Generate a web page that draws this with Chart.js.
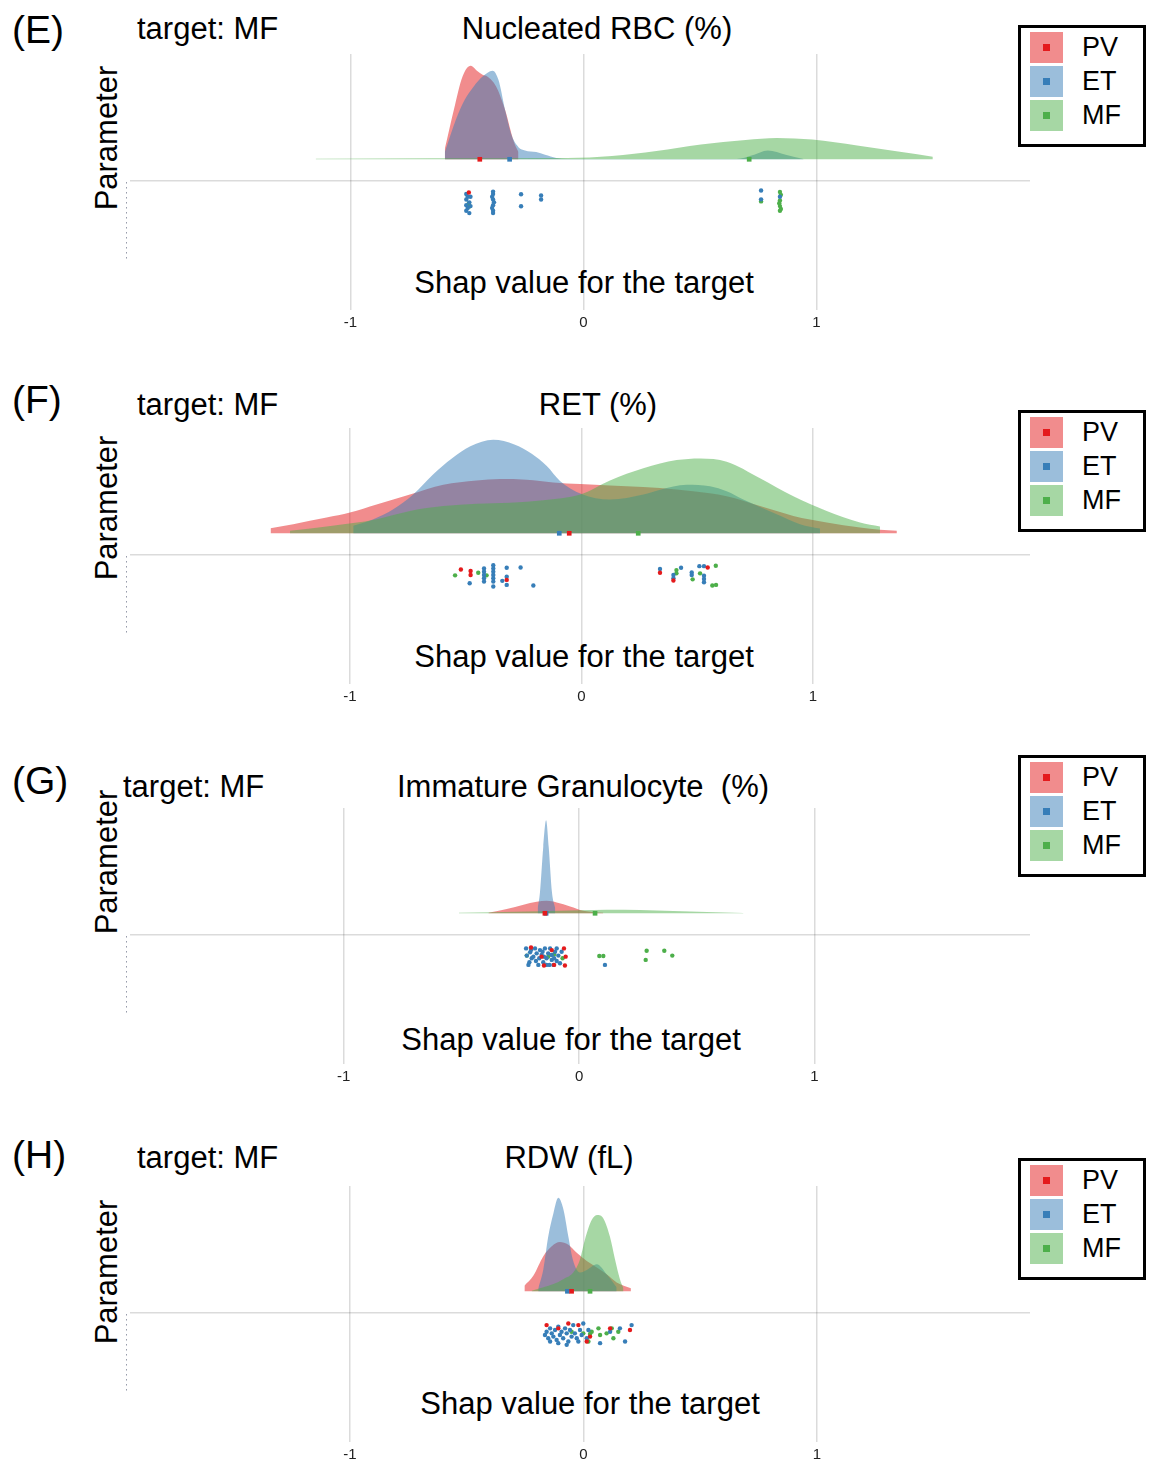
<!DOCTYPE html>
<html><head><meta charset="utf-8">
<script src="https://cdn.jsdelivr.net/npm/chart.js@4"></script>
<style>
html,body{margin:0;padding:0;background:#fff;}
body{width:1153px;height:1462px;position:relative;overflow:hidden;font-family:'Liberation Sans',Arial,sans-serif;color:#000;}
.t{position:absolute;white-space:pre;line-height:1;}
.lab{font-size:39px;transform:translateY(-50%);}
.tt{font-size:31px;}
.vc{transform:translateY(-50%);}
.ctr{transform:translate(-50%,-50%);}
.rot{transform:translate(-50%,-50%) rotate(-90deg);}
canvas{position:absolute;left:0;}
.leg{position:absolute;left:1018px;width:122px;height:116px;border:3px solid #000;background:#fff;}
.sw{position:absolute;left:9px;width:33px;height:31px;}
.sw i{position:absolute;left:13px;top:12px;width:7px;height:7px;}
.lt{position:absolute;left:61px;font-size:27px;line-height:1;transform:translateY(-50%);}
</style>
</head><body>
<script>
// ---------- category / series labels ----------
const GROUPS = ['PV', 'ET', 'MF'];
const PANEL_IDS = ['E', 'F', 'G', 'H'];
const PANEL_TITLES = ['Nucleated RBC (%)', 'RET (%)', 'Immature Granulocyte  (%)', 'RDW (fL)'];
const TARGET_LABEL = 'target: MF';
const Y_LABEL = 'Parameter';
const X_LABEL = 'Shap value for the target';
const X_TICKS = [-1, 0, 1];
const PARAM_ROW = [-0.225];

// ---------- Panel E: Nucleated RBC (%) ----------
const E_PV_DENS = [[-0.595,0.112],[-0.556,0.533],[-0.519,0.884],[-0.484,1.0],[-0.453,0.937],[-0.433,0.902],[-0.413,0.884],[-0.375,0.779],[-0.337,0.533],[-0.298,0.182],[-0.279,0.077]];
const E_ET_DENS = [[-0.595,0.077],[-0.547,0.428],[-0.509,0.639],[-0.471,0.779],[-0.433,0.884],[-0.390,0.947],[-0.365,0.849],[-0.337,0.533],[-0.308,0.253],[-0.279,0.13],[-0.251,0.095],[-0.203,0.077],[-0.165,0.049],[-0.117,0.014],[-0.069,0.002],[0.657,0.002],[0.724,0.042],[0.791,0.095],[0.868,0.049],[0.944,0.002]];
const E_MF_DENS = [[-1.149,0.005],[-0.643,0.011],[-0.069,0.014],[0.122,0.035],[0.313,0.088],[0.504,0.158],[0.696,0.207],[0.83,0.228],[0.982,0.211],[1.174,0.147],[1.365,0.077],[1.499,0.028]];
const E_MEDIANS = [-0.445, -0.317, 0.711];
const E_PV_PTS = [[-0.492,-0.355]];
const E_ET_PTS = [[-0.503,-0.37],[-0.497,-0.40],[-0.503,-0.43],[-0.49,-0.46],[-0.503,-0.49],[-0.497,-0.52],[-0.503,-0.55],[-0.49,-0.575],[-0.485,-0.40],[-0.485,-0.50],[-0.388,-0.345],[-0.388,-0.37],[-0.392,-0.40],[-0.388,-0.43],[-0.384,-0.46],[-0.388,-0.49],[-0.392,-0.52],[-0.388,-0.55],[-0.388,-0.575],[-0.268,-0.373],[-0.268,-0.502],[-0.182,-0.386],[-0.182,-0.43],[0.762,-0.333],[0.762,-0.428],[0.843,-0.40]];
const E_MF_PTS = [[-0.492,-0.47],[-0.49,-0.505],[0.762,-0.45],[0.843,-0.35],[0.847,-0.38],[0.843,-0.44],[0.84,-0.47],[0.843,-0.50],[0.847,-0.53],[0.843,-0.55]];

// ---------- Panel F: RET (%) ----------
const F_PV_DENS = [[-1.343,0.053],[-1.245,0.098],[-1.101,0.168],[-1.0,0.221],[-0.885,0.309],[-0.741,0.414],[-0.597,0.519],[-0.453,0.565],[-0.352,0.579],[-0.237,0.572],[-0.122,0.544],[-0.006,0.526],[0.123,0.512],[0.267,0.495],[0.339,0.484],[0.483,0.449],[0.627,0.396],[0.771,0.291],[0.915,0.186],[1.059,0.116],[1.203,0.063],[1.289,0.039],[1.362,0.028]];
const F_ET_DENS = [[-0.986,0.08],[-0.899,0.151],[-0.813,0.256],[-0.727,0.414],[-0.640,0.632],[-0.56,0.80],[-0.48,0.93],[-0.381,1.0],[-0.29,0.95],[-0.215,0.85],[-0.150,0.72],[-0.093,0.56],[0.0,0.42],[0.123,0.361],[0.267,0.414],[0.339,0.466],[0.454,0.519],[0.555,0.502],[0.627,0.449],[0.699,0.361],[0.843,0.204],[0.944,0.098],[1.03,0.05]];
const F_MF_DENS = [[-1.259,0.028],[-1.101,0.074],[-0.986,0.109],[-0.885,0.151],[-0.741,0.239],[-0.597,0.291],[-0.453,0.316],[-0.309,0.326],[-0.165,0.354],[-0.006,0.414],[0.123,0.565],[0.267,0.695],[0.411,0.782],[0.512,0.80],[0.627,0.765],[0.771,0.589],[0.915,0.396],[1.059,0.239],[1.203,0.116],[1.289,0.074]];
const F_MEDIANS = [-0.053, -0.096, 0.245];
const F_PV_PTS = [[-0.521,-0.386],[-0.479,-0.403],[-0.479,-0.445],[-0.323,-0.498],[0.339,-0.421],[0.397,-0.505],[0.545,-0.365]];
const F_ET_PTS = [[-0.483,-0.534],[-0.421,-0.376],[-0.421,-0.411],[-0.421,-0.445],[-0.421,-0.481],[-0.421,-0.516],[-0.381,-0.34],[-0.381,-0.376],[-0.381,-0.411],[-0.381,-0.445],[-0.381,-0.481],[-0.381,-0.516],[-0.381,-0.568],[-0.342,-0.508],[-0.323,-0.368],[-0.323,-0.463],[-0.323,-0.551],[-0.263,-0.365],[-0.208,-0.558],[0.339,-0.382],[0.43,-0.368],[0.397,-0.445],[0.397,-0.481],[0.476,-0.418],[0.476,-0.445],[0.509,-0.351],[0.529,-0.351],[0.529,-0.453],[0.529,-0.487],[0.529,-0.523]];
const F_MF_PTS = [[-0.546,-0.449],[-0.446,-0.421],[-0.410,-0.449],[0.41,-0.393],[0.41,-0.428],[0.48,-0.492],[0.512,-0.428],[0.58,-0.347],[0.565,-0.558],[0.581,-0.551]];

// ---------- Panel G: Immature Granulocyte (%) ----------
const G_PV_DENS = [[-0.385,0.005],[-0.307,0.046],[-0.236,0.091],[-0.180,0.123],[-0.137,0.133],[-0.095,0.116],[-0.038,0.074],[0.018,0.028],[0.103,0.005]];
const G_ET_DENS = [[-0.176,0.05],[-0.166,0.221],[-0.152,0.712],[-0.140,0.993],[-0.129,0.712],[-0.115,0.221],[-0.101,0.05]];
const G_MF_DENS = [[-0.510,0.005],[-0.378,0.01],[-0.166,0.021],[0.004,0.032],[0.118,0.039],[0.259,0.035],[0.4,0.025],[0.542,0.014],[0.698,0.004]];
const G_MEDIANS = [-0.145, -0.140, 0.068];
const G_PV_PTS = [[-0.204,-0.365],[-0.064,-0.375],[-0.057,-0.463],[-0.06,-0.558],[-0.149,-0.558],[-0.106,-0.551],[-0.159,-0.463],[-0.116,-0.393]];
const G_ET_PTS = [[-0.225,-0.375],[-0.208,-0.417],[-0.201,-0.481],[-0.215,-0.551],[-0.187,-0.375],[-0.180,-0.428],[-0.183,-0.509],[-0.173,-0.551],[-0.166,-0.393],[-0.159,-0.445],[-0.145,-0.375],[-0.138,-0.481],[-0.131,-0.428],[-0.123,-0.375],[-0.116,-0.498],[-0.109,-0.551],[-0.102,-0.410],[-0.095,-0.375],[-0.088,-0.452],[-0.081,-0.533],[-0.194,-0.463],[-0.169,-0.481],[-0.152,-0.523],[-0.126,-0.551],[-0.095,-0.509],[-0.074,-0.410],[-0.211,-0.523],[-0.138,-0.551],[-0.116,-0.445],[-0.155,-0.410],[-0.222,-0.452],[-0.204,-0.393],[-0.149,-0.463],[-0.106,-0.481],[0.110,-0.551]];
const G_MF_PTS = [[-0.222,-0.452],[-0.07,-0.481],[-0.106,-0.438],[-0.131,-0.463],[0.086,-0.456],[0.103,-0.456],[0.287,-0.40],[0.362,-0.40],[0.283,-0.498],[0.396,-0.452]];

// ---------- Panel H: RDW (fL) ----------
const H_PV_DENS = [[-0.253,0.06],[-0.215,0.165],[-0.172,0.375],[-0.136,0.481],[-0.101,0.526],[-0.065,0.498],[-0.029,0.411],[0.014,0.323],[0.057,0.253],[0.099,0.182],[0.142,0.095],[0.203,0.032]];
const H_ET_DENS = [[-0.194,0.025],[-0.172,0.235],[-0.151,0.586],[-0.129,0.832],[-0.108,1.0],[-0.087,0.884],[-0.065,0.586],[-0.044,0.323],[-0.015,0.2],[0.014,0.228],[0.057,0.288],[0.099,0.182],[0.142,0.042]];
const H_MF_DENS = [[-0.222,0.007],[-0.172,0.042],[-0.129,0.077],[-0.087,0.13],[-0.044,0.2],[-0.015,0.34],[0.006,0.551],[0.035,0.761],[0.059,0.814],[0.085,0.779],[0.113,0.586],[0.135,0.34],[0.156,0.13],[0.171,0.032]];
const H_MEDIANS = [-0.051, -0.069, 0.028];
const H_PV_PTS = [[-0.158,-0.361],[-0.108,-0.396],[-0.065,-0.344],[-0.022,-0.361],[0.014,-0.537],[0.028,-0.484],[0.114,-0.396],[0.199,-0.414]];
const H_ET_PTS = [[-0.165,-0.467],[-0.158,-0.432],[-0.151,-0.502],[-0.143,-0.396],[-0.136,-0.449],[-0.129,-0.484],[-0.122,-0.414],[-0.115,-0.519],[-0.108,-0.379],[-0.101,-0.467],[-0.094,-0.432],[-0.087,-0.502],[-0.079,-0.396],[-0.072,-0.449],[-0.065,-0.537],[-0.058,-0.414],[-0.051,-0.484],[-0.044,-0.361],[-0.037,-0.449],[-0.029,-0.502],[-0.015,-0.414],[-0.008,-0.467],[-0.001,-0.344],[-0.108,-0.554],[-0.143,-0.537],[-0.072,-0.572],[-0.022,-0.537],[0.014,-0.502],[0.021,-0.414],[0.071,-0.554],[0.114,-0.432],[0.156,-0.396],[0.206,-0.361],[0.178,-0.537]];
const H_MF_PTS = [[-0.051,-0.432],[-0.001,-0.449],[0.035,-0.432],[0.021,-0.537],[0.064,-0.396],[0.071,-0.467],[0.099,-0.449],[0.128,-0.502],[0.149,-0.432],[0.121,-0.396],[0.028,-0.455]];

// ---------- assembly ----------
const DATA = {
  E: {dens:[E_PV_DENS,E_ET_DENS,E_MF_DENS], med:E_MEDIANS, pts:[E_PV_PTS,E_ET_PTS,E_MF_PTS]},
  F: {dens:[F_PV_DENS,F_ET_DENS,F_MF_DENS], med:F_MEDIANS, pts:[F_PV_PTS,F_ET_PTS,F_MF_PTS]},
  G: {dens:[G_PV_DENS,G_ET_DENS,G_MF_DENS], med:G_MEDIANS, pts:[G_PV_PTS,G_ET_PTS,G_MF_PTS]},
  H: {dens:[H_PV_DENS,H_ET_DENS,H_MF_DENS], med:H_MEDIANS, pts:[H_PV_PTS,H_ET_PTS,H_MF_PTS]}
};

// layout / style (not data)
const SOLID = ['rgb(228,26,28)','rgb(55,126,184)','rgb(77,175,74)'];
const FILL = ['rgba(228,26,28,0.5)','rgba(55,126,184,0.5)','rgba(77,175,74,0.5)'];
const LAYOUT = {
  E:{top:53.5, xmin:-1.946, xmax:1.916, lab:[12,29], tgt:[137,28], ttl:[597,28], par:[106,138], shp:[584,282], leg:25},
  F:{top:427.5, xmin:-1.950, xmax:1.937, lab:[12,399], tgt:[137,404], ttl:[598,404], par:[106,508], shp:[584,656], leg:410},
  G:{top:807.5, xmin:-1.907, xmax:1.915, lab:[12,780], tgt:[123,786], ttl:[583,786], par:[106,862], shp:[571,1039], leg:755},
  H:{top:1185.5, xmin:-1.942, xmax:1.912, lab:[12,1154], tgt:[137,1157], ttl:[569,1157], par:[106,1272], shp:[590,1403], leg:1158}
};
const CHART_H = 260;
const GRID = 'rgba(0,0,0,0.14)';

// faint dotted stub of the y axis below the parameter row
const axisStub = {
  id: 'axisStub',
  afterDraw(chart) {
    const {ctx, chartArea, scales} = chart;
    const y0 = scales.y.getPixelForValue(PARAM_ROW[0]) + 2;
    const y1 = scales.y.getPixelForValue(-1.08);
    ctx.save();
    ctx.strokeStyle = 'rgba(40,50,80,0.75)';
    ctx.lineWidth = 1;
    ctx.setLineDash([1, 4]);
    ctx.beginPath();
    ctx.moveTo(chartArea.left - 3.5, y0);
    ctx.lineTo(chartArea.left - 3.5, y1);
    ctx.stroke();
    ctx.restore();
  }
};

function addText(txt, cls, x, y) {
  const d = document.createElement('div');
  d.className = 't ' + cls;
  d.textContent = txt;
  d.style.left = x + 'px';
  d.style.top = y + 'px';
  document.body.appendChild(d);
}

PANEL_IDS.forEach((pid, pi) => {
  const L = LAYOUT[pid], D = DATA[pid];
  addText('(' + pid + ')', 'lab', L.lab[0], L.lab[1]);
  addText(TARGET_LABEL, 'tt vc', L.tgt[0], L.tgt[1]);
  addText(PANEL_TITLES[pi], 'tt ctr', L.ttl[0], L.ttl[1]);
  addText(Y_LABEL, 'tt rot', L.par[0], L.par[1]);
  addText(X_LABEL, 'tt ctr', L.shp[0], L.shp[1]);

  const leg = document.createElement('div');
  leg.className = 'leg';
  leg.style.top = L.leg + 'px';
  GROUPS.forEach((g, gi) => {
    const sw = document.createElement('div');
    sw.className = 'sw';
    sw.style.top = (3.5 + gi * 34) + 'px';
    sw.style.background = FILL[gi];
    const ii = document.createElement('i');
    ii.style.background = SOLID[gi];
    sw.appendChild(ii);
    leg.appendChild(sw);
    const lt = document.createElement('div');
    lt.className = 'lt';
    lt.textContent = g;
    lt.style.top = (19 + gi * 34) + 'px';
    leg.appendChild(lt);
  });
  document.body.appendChild(leg);

  const cv = document.createElement('canvas');
  cv.width = 1153; cv.height = 290;
  cv.style.width = '1153px'; cv.style.height = '290px';
  cv.style.top = L.top + 'px';
  document.body.appendChild(cv);

  const datasets = [];
  GROUPS.forEach((g, gi) => {
    datasets.push({
      type: 'scatter', label: g + ' points', order: 0,
      data: D.pts[gi].map(p => ({x: p[0], y: p[1]})),
      pointRadius: 2.2, pointBackgroundColor: SOLID[gi], pointBorderWidth: 0
    });
    datasets.push({
      type: 'scatter', label: g + ' median', order: 0,
      data: [{x: D.med[gi], y: 0}],
      pointStyle: 'rect', pointRadius: 3.3, pointBackgroundColor: SOLID[gi], pointBorderWidth: 0
    });
  });
  GROUPS.forEach((g, gi) => {
    datasets.push({
      type: 'line', label: g + ' density', order: 3 - gi,
      data: D.dens[gi].map(p => ({x: p[0], y: p[1]})),
      fill: 'origin', backgroundColor: FILL[gi], borderWidth: 0, borderColor: 'rgba(0,0,0,0)',
      pointRadius: 0, tension: 0.4, cubicInterpolationMode: 'monotone'
    });
  });

  const chart = new Chart(cv, {
    data: {datasets},
    plugins: [axisStub],
    options: {
      responsive: false, animation: false, devicePixelRatio: 1,
      layout: {padding: {left: 130, right: 123, top: 0, bottom: 0}},
      plugins: {legend: {display: false}, tooltip: {enabled: false}},
      scales: {
        x: {
          type: 'linear', min: L.xmin, max: L.xmax,
          afterBuildTicks: ax => { ax.ticks = X_TICKS.map(v => ({value: v})); },
          afterFit: ax => { ax.height = 30; },
          grid: {color: GRID, lineWidth: 1.5, drawTicks: false},
          border: {display: false},
          ticks: {font: {family: "'Liberation Sans', Arial, sans-serif", size: 15}, color: '#222', padding: 4, maxRotation: 0}
        },
        y: {
          type: 'linear', min: -1.61, max: 1.125,
          afterBuildTicks: ax => { ax.ticks = PARAM_ROW.map(v => ({value: v})); },
          afterFit: ax => { ax.width = 0; },
          grid: {color: GRID, lineWidth: 1.5, drawTicks: false},
          border: {display: false},
          ticks: {display: false}
        }
      }
    }
  });
  let ca = chart.chartArea;
  const h = ca.bottom - ca.top;
  if (Math.abs(h - CHART_H) > 0.5) {
    chart.resize(1153, 290 + (CHART_H - h));
    ca = chart.chartArea;
  }
  cv.style.top = (L.top - ca.top) + 'px';
});
</script>
</body></html>
